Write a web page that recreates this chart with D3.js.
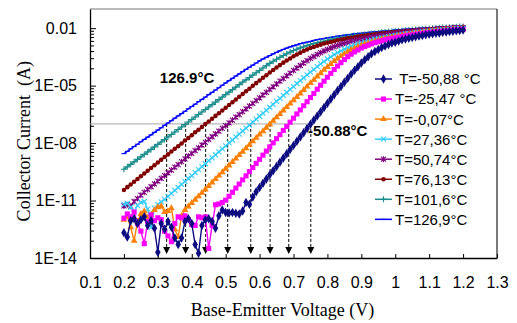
<!DOCTYPE html>
<html>
<head>
<meta charset="utf-8">
<script src="https://cdn.jsdelivr.net/npm/d3@7"></script>
<style>
body { margin: 0; background: #fff; }
svg { display: block; }
</style>
</head>
<body>
<div id="chart"></div>
<script>
// base-emitter voltage sweep (V)
var voltage = [0.20,0.21,0.22,0.23,0.24,0.25,0.26,0.27,0.28,0.29,
  0.30,0.31,0.32,0.33,0.34,0.35,0.36,0.37,0.38,0.39,
  0.40,0.41,0.42,0.43,0.44,0.45,0.46,0.47,0.48,0.49,
  0.50,0.51,0.52,0.53,0.54,0.55,0.56,0.57,0.58,0.59,
  0.60,0.61,0.62,0.63,0.64,0.65,0.66,0.67,0.68,0.69,
  0.70,0.71,0.72,0.73,0.74,0.75,0.76,0.77,0.78,0.79,
  0.80,0.81,0.82,0.83,0.84,0.85,0.86,0.87,0.88,0.89,
  0.90,0.91,0.92,0.93,0.94,0.95,0.96,0.97,0.98,0.99,
  1.00,1.01,1.02,1.03,1.04,1.05,1.06,1.07,1.08,1.09,
  1.10,1.11,1.12,1.13,1.14,1.15,1.16,1.17,1.18,1.19,
  1.20];

// collector current, stored as log10(I in A)
var logI_m50 = [-12.68,-12.90,-12.05,-11.95,-12.20,-12.00,-11.85,-12.30,-12.05,-12.45,
  -13.70,-12.20,-12.50,-12.10,-12.40,-12.95,-13.30,-12.95,-12.10,-11.95,
  -12.20,-13.30,-13.75,-12.30,-12.00,-11.95,-12.10,-12.45,-11.80,-11.50,
  -11.62,-11.65,-11.62,-11.66,-11.70,-11.55,-11.10,-11.20,-10.82,-10.54,
  -10.32,-10.10,-9.88,-9.66,-9.44,-9.22,-9.00,-8.78,-8.56,-8.34,
  -8.12,-7.90,-7.68,-7.46,-7.24,-7.02,-6.80,-6.58,-6.36,-6.14,
  -5.92,-5.70,-5.48,-5.26,-5.04,-4.82,-4.61,-4.40,-4.20,-4.01,
  -3.82,-3.65,-3.49,-3.34,-3.22,-3.12,-3.01,-2.93,-2.85,-2.78,
  -2.73,-2.67,-2.61,-2.57,-2.53,-2.49,-2.45,-2.41,-2.38,-2.35,
  -2.32,-2.29,-2.27,-2.25,-2.22,-2.20,-2.18,-2.16,-2.14,-2.12,
  -2.10];
var logI_m25 = [-11.92,-11.70,-11.85,-11.60,-12.20,-12.60,-13.25,-12.10,-11.75,-12.05,
  -11.90,-12.00,-12.60,-12.85,-13.15,-12.20,-11.85,-11.90,-11.80,-12.00,
  -12.25,-12.30,-11.85,-11.90,-11.85,-13.50,-12.30,-11.22,-11.18,-11.10,
  -10.98,-10.78,-10.57,-10.35,-10.14,-9.92,-9.71,-9.49,-9.28,-9.06,
  -8.85,-8.63,-8.42,-8.20,-7.99,-7.77,-7.56,-7.34,-7.13,-6.91,
  -6.70,-6.48,-6.27,-6.05,-5.84,-5.62,-5.41,-5.19,-4.98,-4.77,
  -4.56,-4.36,-4.16,-3.98,-3.80,-3.64,-3.49,-3.36,-3.24,-3.14,
  -3.04,-2.96,-2.89,-2.82,-2.76,-2.71,-2.66,-2.61,-2.57,-2.54,
  -2.50,-2.47,-2.43,-2.40,-2.37,-2.35,-2.32,-2.30,-2.27,-2.25,
  -2.23,-2.21,-2.19,-2.17,-2.16,-2.14,-2.12,-2.10,-2.09,-2.07,
  -2.06];
var logI_0 = [-12.00,-11.85,-12.40,-13.10,-12.10,-11.70,-11.55,-11.90,-11.75,-11.50,
  -11.35,-11.30,-11.60,-11.55,-11.40,-12.50,-12.90,-11.80,-11.49,-11.31,
  -11.13,-10.96,-10.78,-10.60,-10.42,-10.24,-10.06,-9.88,-9.70,-9.52,
  -9.34,-9.17,-8.99,-8.81,-8.63,-8.45,-8.27,-8.09,-7.91,-7.73,
  -7.55,-7.38,-7.20,-7.02,-6.84,-6.66,-6.48,-6.30,-6.12,-5.94,
  -5.76,-5.59,-5.41,-5.23,-5.05,-4.87,-4.70,-4.52,-4.35,-4.18,
  -4.03,-3.87,-3.72,-3.58,-3.46,-3.34,-3.23,-3.14,-3.05,-2.97,
  -2.90,-2.83,-2.78,-2.73,-2.68,-2.63,-2.58,-2.55,-2.51,-2.48,
  -2.44,-2.41,-2.38,-2.35,-2.33,-2.30,-2.28,-2.26,-2.24,-2.21,
  -2.19,-2.17,-2.16,-2.14,-2.12,-2.10,-2.09,-2.07,-2.06,-2.04,
  -2.03];
var logI_27 = [-11.20,-11.15,-11.35,-11.60,-11.25,-11.10,-11.05,-11.45,-12.40,-11.40,
  -11.20,-11.07,-10.94,-10.78,-10.63,-10.47,-10.32,-10.16,-10.01,-9.85,
  -9.70,-9.54,-9.39,-9.23,-9.08,-8.92,-8.77,-8.61,-8.46,-8.30,
  -8.15,-7.99,-7.84,-7.68,-7.53,-7.37,-7.22,-7.06,-6.91,-6.75,
  -6.60,-6.44,-6.29,-6.13,-5.98,-5.82,-5.67,-5.51,-5.36,-5.20,
  -5.05,-4.89,-4.74,-4.59,-4.44,-4.29,-4.15,-4.01,-3.87,-3.74,
  -3.61,-3.50,-3.38,-3.28,-3.19,-3.10,-3.02,-2.95,-2.89,-2.82,
  -2.77,-2.72,-2.67,-2.62,-2.58,-2.54,-2.51,-2.47,-2.44,-2.40,
  -2.38,-2.35,-2.32,-2.30,-2.28,-2.26,-2.23,-2.21,-2.19,-2.17,
  -2.16,-2.14,-2.12,-2.10,-2.09,-2.07,-2.06,-2.04,-2.03,-2.01,
  -2.00];
var logI_51 = [-11.28,-11.22,-11.30,-11.05,-10.90,-10.72,-10.57,-10.42,-10.28,-10.13,
  -9.99,-9.84,-9.70,-9.55,-9.41,-9.26,-9.12,-8.97,-8.83,-8.68,
  -8.54,-8.39,-8.25,-8.10,-7.96,-7.81,-7.67,-7.52,-7.38,-7.23,
  -7.09,-6.94,-6.80,-6.65,-6.51,-6.36,-6.22,-6.07,-5.93,-5.78,
  -5.64,-5.49,-5.35,-5.20,-5.06,-4.91,-4.77,-4.63,-4.49,-4.35,
  -4.21,-4.08,-3.95,-3.82,-3.70,-3.58,-3.48,-3.37,-3.28,-3.19,
  -3.11,-3.03,-2.97,-2.90,-2.84,-2.79,-2.74,-2.69,-2.65,-2.60,
  -2.57,-2.54,-2.51,-2.47,-2.44,-2.41,-2.38,-2.36,-2.33,-2.31,
  -2.28,-2.26,-2.24,-2.22,-2.20,-2.19,-2.17,-2.15,-2.13,-2.12,
  -2.10,-2.09,-2.07,-2.06,-2.05,-2.03,-2.02,-2.01,-1.99,-1.98,
  -1.97];
var logI_76 = [-10.45,-10.30,-10.16,-10.02,-9.87,-9.73,-9.59,-9.45,-9.30,-9.16,
  -9.02,-8.87,-8.73,-8.59,-8.44,-8.30,-8.16,-8.02,-7.87,-7.73,
  -7.59,-7.44,-7.30,-7.16,-7.01,-6.87,-6.73,-6.58,-6.44,-6.30,
  -6.16,-6.01,-5.87,-5.73,-5.58,-5.44,-5.30,-5.16,-5.01,-4.87,
  -4.73,-4.59,-4.46,-4.32,-4.19,-4.05,-3.93,-3.80,-3.69,-3.58,
  -3.47,-3.37,-3.28,-3.19,-3.12,-3.04,-2.98,-2.92,-2.86,-2.80,
  -2.76,-2.72,-2.68,-2.63,-2.59,-2.56,-2.53,-2.50,-2.47,-2.44,
  -2.41,-2.38,-2.36,-2.34,-2.32,-2.29,-2.27,-2.25,-2.24,-2.22,
  -2.20,-2.18,-2.17,-2.15,-2.14,-2.12,-2.11,-2.09,-2.08,-2.07,
  -2.06,-2.04,-2.03,-2.02,-2.01,-1.99,-1.98,-1.97,-1.96,-1.95,
  -1.94];
var logI_102 = [-9.37,-9.24,-9.11,-8.98,-8.85,-8.72,-8.59,-8.46,-8.33,-8.20,
  -8.07,-7.94,-7.81,-7.68,-7.55,-7.42,-7.29,-7.16,-7.03,-6.90,
  -6.77,-6.64,-6.51,-6.38,-6.25,-6.12,-5.99,-5.86,-5.73,-5.60,
  -5.47,-5.34,-5.21,-5.08,-4.95,-4.82,-4.70,-4.58,-4.45,-4.33,
  -4.21,-4.08,-3.96,-3.84,-3.73,-3.62,-3.52,-3.43,-3.34,-3.25,
  -3.17,-3.10,-3.03,-2.97,-2.91,-2.86,-2.80,-2.76,-2.72,-2.68,
  -2.64,-2.59,-2.56,-2.53,-2.50,-2.47,-2.44,-2.41,-2.39,-2.36,
  -2.34,-2.32,-2.30,-2.28,-2.26,-2.24,-2.22,-2.20,-2.18,-2.17,
  -2.15,-2.14,-2.12,-2.11,-2.09,-2.08,-2.07,-2.06,-2.04,-2.03,
  -2.02,-2.00,-1.99,-1.98,-1.97,-1.96,-1.95,-1.94,-1.93,-1.92,
  -1.91];
var logI_127 = [-8.55,-8.43,-8.30,-8.18,-8.06,-7.93,-7.81,-7.69,-7.57,-7.44,
  -7.32,-7.20,-7.07,-6.95,-6.83,-6.70,-6.58,-6.46,-6.34,-6.21,
  -6.09,-5.97,-5.84,-5.72,-5.60,-5.47,-5.35,-5.23,-5.11,-4.98,
  -4.86,-4.74,-4.62,-4.50,-4.39,-4.27,-4.15,-4.04,-3.93,-3.82,
  -3.71,-3.61,-3.52,-3.43,-3.34,-3.26,-3.18,-3.11,-3.04,-2.98,
  -2.92,-2.87,-2.81,-2.77,-2.73,-2.69,-2.64,-2.60,-2.57,-2.54,
  -2.51,-2.48,-2.45,-2.42,-2.40,-2.37,-2.35,-2.33,-2.30,-2.28,
  -2.27,-2.25,-2.23,-2.21,-2.19,-2.18,-2.16,-2.15,-2.13,-2.12,
  -2.10,-2.09,-2.07,-2.06,-2.05,-2.04,-2.02,-2.01,-2.00,-1.99,
  -1.98,-1.97,-1.96,-1.95,-1.94,-1.93,-1.92,-1.91,-1.90,-1.89,
  -1.88];

var seriesNames = ["\u00a0T=-50,88 °C", "T=-25,47 °C", "T=-0,07°C", "T=27,36°C",
  "T=50,74°C", "T=76,13°C", "T=101,6°C", "T=126,9°C"];
var seriesColors = ["#0c0c80", "#ff00ff", "#ff8000", "#33ccff", "#800080", "#800000", "#1a8c8c", "#0000ff"];
var seriesMarkers = ["diamond", "square", "triangle", "cross", "star", "circle", "plus", "dash"];

// voltage at which each curve reaches the 1E-07 A reference level
var crossV = [0.751, 0.686, 0.631, 0.574, 0.506, 0.441, 0.382, 0.326];
var refCurrent = 1e-7;

var xTicks = [0.1, 0.2, 0.3, 0.4, 0.5, 0.6, 0.7, 0.8, 0.9, 1, 1.1, 1.2, 1.3];
var yMajor = [1e-14, 1e-11, 1e-8, 1e-5, 1e-2];
var yLabels = ["1E-14", "1E-11", "1E-08", "1E-05", "0.01"];

var svgWidth = 517;
var svgHeight = 323;
var margin = {top: 9, right: 20, bottom: 65, left: 90};
var width = svgWidth - margin.left - margin.right;
var height = svgHeight - margin.top - margin.bottom;

var sansFont = "'Liberation Sans', Arial, sans-serif";
var serifFont = "'Liberation Serif', 'Times New Roman', serif";

var svg = d3.select("#chart")
  .append("svg")
  .attr("width", svgWidth)
  .attr("height", svgHeight);

var chartGroup = svg.append("g")
  .attr("transform", `translate(${margin.left}, ${margin.top})`);

var x = d3.scaleLinear().domain([0.1, 1.3]).range([0, width]);
var y = d3.scaleLog().domain([1e-14, 1e-1]).range([height, 0]);

// minor ticks: base-1000 style subdivisions (k^3 times each major)
var yMinor = [];
yMajor.slice(0, 4).forEach(function(m) {
  for (var k = 2; k <= 9; k++) yMinor.push(m * k * k * k);
});

// frame
chartGroup.append("line")
  .attr("x1", 0).attr("x2", width).attr("y1", 0).attr("y2", 0)
  .attr("stroke", "#777").attr("stroke-width", 1.2);
chartGroup.append("line")
  .attr("x1", width).attr("x2", width).attr("y1", 0).attr("y2", height)
  .attr("stroke", "#222").attr("stroke-width", 1.2);

// axes
var leftAxis = d3.axisLeft(y).tickValues(yMajor).tickSizeInner(-6).tickSizeOuter(0)
  .tickPadding(13).tickFormat(function(d, i) { return yLabels[i]; });
var leftMinor = d3.axisLeft(y).tickValues(yMinor).tickSizeInner(-4).tickSizeOuter(0)
  .tickFormat("");
var bottomAxis = d3.axisBottom(x).tickValues(xTicks).tickSizeInner(-4).tickSizeOuter(0)
  .tickPadding(19).tickFormat(d3.format(""));

var yAxisG = chartGroup.append("g").call(leftAxis);
chartGroup.append("g").call(leftMinor).select(".domain").remove();
var xAxisG = chartGroup.append("g")
  .attr("transform", `translate(0, ${height})`)
  .call(bottomAxis);

[yAxisG, xAxisG].forEach(function(g) {
  g.selectAll("text")
    .style("font-family", sansFont)
    .style("font-size", "16px")
    .attr("fill", "#000");
  g.select(".domain").attr("stroke-width", 1.3);
});

// reference level and dashed drop lines
chartGroup.append("line")
  .attr("x1", 0)
  .attr("x2", x(crossV[0]))
  .attr("y1", y(refCurrent))
  .attr("y2", y(refCurrent))
  .attr("stroke", "#a6a6a6")
  .attr("stroke-width", 1);

chartGroup.selectAll(".dropLine")
  .data(crossV)
  .enter()
  .append("line")
  .attr("class", "dropLine")
  .attr("x1", d => x(d))
  .attr("x2", d => x(d))
  .attr("y1", y(refCurrent))
  .attr("y2", height - 9)
  .attr("stroke", "#000")
  .attr("stroke-width", 1)
  .attr("stroke-dasharray", "3,2");

chartGroup.selectAll(".arrowHead")
  .data(crossV)
  .enter()
  .append("path")
  .attr("class", "arrowHead")
  .attr("d", d => `M${x(d) - 3.5},${height - 11}L${x(d) + 3.5},${height - 11}L${x(d)},${height - 4}Z`)
  .attr("fill", "#000");

// markers
function markerPath(type) {
  switch (type) {
    case "diamond": return d3.symbol().type(d3.symbolDiamond).size(26)();
    case "square": return d3.symbol().type(d3.symbolSquare).size(26)();
    case "triangle": return d3.symbol().type(d3.symbolTriangle).size(20)();
    case "circle": return d3.symbol().type(d3.symbolCircle).size(16)();
    case "cross": return "M-2.5,-2.5L2.5,2.5M-2.5,2.5L2.5,-2.5";
    case "star": return "M-2.5,-2.5L2.5,2.5M-2.5,2.5L2.5,-2.5M0,-3L0,3";
    case "plus": return "M-3,0L3,0M0,-3L0,3";
    default: return "M-2.5,0L2.5,0";
  }
}
function isStroked(type) {
  return type === "cross" || type === "star" || type === "plus" || type === "dash";
}

var allValues = [logI_m50, logI_m25, logI_0, logI_27, logI_51, logI_76, logI_102, logI_127];
var chartSeries = seriesNames.map(function(name, i) {
  return {
    name: name,
    color: seriesColors[i],
    marker: seriesMarkers[i],
    points: voltage.map(function(v, j) { return {v: v, i: Math.pow(10, allValues[i][j])}; })
  };
});

var line = d3.line()
  .x(d => x(d.v))
  .y(d => y(d.i));

// hottest first so the cold, noisy curves sit on top
var drawOrder = chartSeries.slice().reverse();
drawOrder.forEach(function(s) {
  var g = chartGroup.append("g");
  g.append("path")
    .datum(s.points)
    .attr("d", line)
    .attr("fill", "none")
    .attr("stroke", s.color)
    .attr("stroke-width", 1.4);
  var mp = markerPath(s.marker);
  g.selectAll("path.mk")
    .data(s.points)
    .enter()
    .append("path")
    .attr("class", "mk")
    .attr("d", mp)
    .attr("transform", d => `translate(${x(d.v)},${y(d.i)})`)
    .attr("fill", isStroked(s.marker) ? "none" : s.color)
    .attr("stroke", isStroked(s.marker) ? s.color : "none")
    .attr("stroke-width", 1.1);
});

// legend
var legend = svg.append("g");
chartSeries.forEach(function(s, i) {
  var ly = 79 + i * 20.05;
  legend.append("line")
    .attr("x1", 375).attr("x2", 392)
    .attr("y1", ly).attr("y2", ly)
    .attr("stroke", s.color)
    .attr("stroke-width", 1.5);
  legend.append("path")
    .attr("d", markerPath(s.marker))
    .attr("transform", `translate(383.5,${ly})`)
    .attr("fill", isStroked(s.marker) ? "none" : s.color)
    .attr("stroke", isStroked(s.marker) ? s.color : "none")
    .attr("stroke-width", 1.1);
  legend.append("text")
    .attr("x", 395)
    .attr("y", ly)
    .attr("dy", "0.36em")
    .style("font-family", sansFont)
    .style("font-size", "15px")
    .text(s.name);
});

// annotations
chartGroup.append("text")
  .attr("x", x(0.306))
  .attr("y", y(Math.pow(10, -4.86)))
  .style("font-family", sansFont)
  .style("font-size", "15px")
  .style("font-weight", "bold")
  .text("126.9°C");

chartGroup.append("text")
  .attr("x", x(0.743))
  .attr("y", y(Math.pow(10, -7.63)))
  .style("font-family", sansFont)
  .style("font-size", "15px")
  .style("font-weight", "bold")
  .text("-50.88°C");

// axis titles
chartGroup.append("text")
  .attr("transform", "rotate(-90)")
  .attr("x", -(y(Math.pow(10, -7.9))))
  .attr("y", -margin.left + 30)
  .attr("text-anchor", "middle")
  .style("font-family", serifFont)
  .style("font-size", "18px")
  .style("white-space", "pre")
  .text("Collector Current  (A)");

chartGroup.append("text")
  .attr("x", width / 2 - 11)
  .attr("y", height + 58)
  .attr("text-anchor", "middle")
  .style("font-family", serifFont)
  .style("font-size", "18px")
  .text("Base-Emitter Voltage (V)");
</script>
</body>
</html>
